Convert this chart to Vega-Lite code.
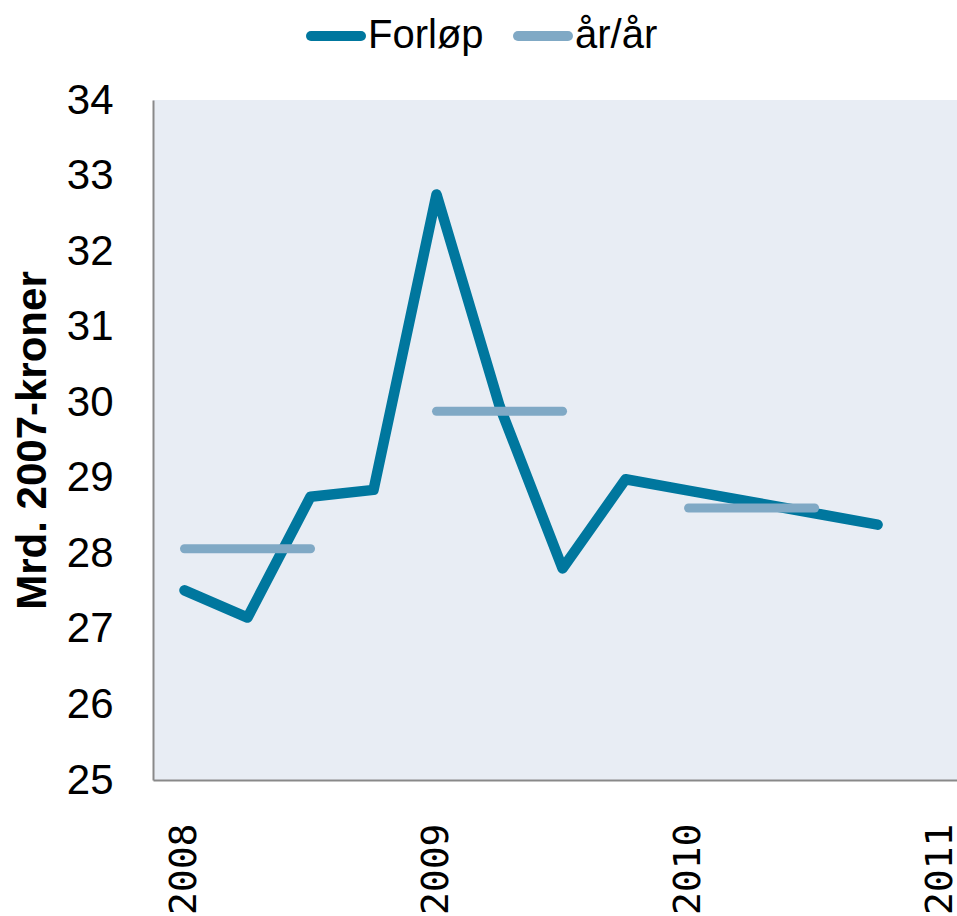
{
  "$schema": "https://vega.github.io/schema/vega-lite/v6.json",
  "width": 804,
  "height": 680,
  "autosize": {"type": "none"},
  "padding": {"left": 153, "top": 100, "right": 0, "bottom": 136},
  "background": "white",
  "config": {"view": {"fill": "#E8EDF4", "stroke": null}, "font": "Liberation Sans"},
  "data": {"values": [
    {"serie": "Forløp", "gruppe": "f", "t": 2008.00, "v": 27.51},
    {"serie": "Forløp", "gruppe": "f", "t": 2008.25, "v": 27.15},
    {"serie": "Forløp", "gruppe": "f", "t": 2008.50, "v": 28.75},
    {"serie": "Forløp", "gruppe": "f", "t": 2008.75, "v": 28.84},
    {"serie": "Forløp", "gruppe": "f", "t": 2009.00, "v": 32.75},
    {"serie": "Forløp", "gruppe": "f", "t": 2009.25, "v": 29.95},
    {"serie": "Forløp", "gruppe": "f", "t": 2009.50, "v": 27.80},
    {"serie": "Forløp", "gruppe": "f", "t": 2009.75, "v": 28.98},
    {"serie": "Forløp", "gruppe": "f", "t": 2010.00, "v": 28.83},
    {"serie": "Forløp", "gruppe": "f", "t": 2010.25, "v": 28.68},
    {"serie": "Forløp", "gruppe": "f", "t": 2010.50, "v": 28.53},
    {"serie": "Forløp", "gruppe": "f", "t": 2010.75, "v": 28.38},
    {"serie": "år/år", "gruppe": "2008", "t": 2008.00, "v": 28.06},
    {"serie": "år/år", "gruppe": "2008", "t": 2008.50, "v": 28.06},
    {"serie": "år/år", "gruppe": "2009", "t": 2009.00, "v": 29.88},
    {"serie": "år/år", "gruppe": "2009", "t": 2009.50, "v": 29.88},
    {"serie": "år/år", "gruppe": "2010", "t": 2010.00, "v": 28.60},
    {"serie": "år/år", "gruppe": "2010", "t": 2010.50, "v": 28.60}
  ]},
  "encoding": {
    "x": {
      "field": "t", "type": "quantitative",
      "scale": {"domain": [2007.875, 2011.065], "nice": false, "zero": false},
      "axis": {
        "values": [2008, 2009, 2010, 2011], "format": "d",
        "labelAngle": -90, "labelAlign": "right", "labelBaseline": "middle",
        "labelFont": "DejaVu Sans Mono", "labelFontSize": 38, "labelPadding": 43,
        "labelColor": "black", "labelFlush": false, "labelOverlap": false, "labelBound": false,
        "ticks": false, "grid": false, "domainColor": "#898989", "domainWidth": 2, "title": null
      }
    },
    "y": {
      "field": "v", "type": "quantitative",
      "scale": {"domain": [25, 34], "nice": false, "zero": false},
      "axis": {
        "values": [25, 26, 27, 28, 29, 30, 31, 32, 33, 34],
        "title": "Mrd. 2007-kroner", "titleFont": "Liberation Sans", "titleFontSize": 42,
        "titleFontWeight": "bold", "titleColor": "black", "titlePadding": 12,
        "labelFont": "Liberation Sans", "labelFontSize": 42, "labelPadding": 40, "labelColor": "black",
        "ticks": false, "grid": false, "domainColor": "#898989", "domainWidth": 2
      }
    },
    "color": {
      "field": "serie", "type": "nominal",
      "scale": {"domain": ["Forløp", "år/år"], "range": ["#00779E", "#80A9C5"]},
      "legend": {
        "orient": "none", "direction": "horizontal", "legendX": 153, "legendY": -94,
        "title": null, "symbolType": "stroke", "symbolStrokeWidth": 10, "symbolSize": 2500,
        "labelFont": "Liberation Sans", "labelFontSize": 40, "labelColor": "black",
        "columnPadding": 14, "labelOffset": 2,
        "encode": {"symbols": {"update": {"strokeCap": {"value": "round"}}}}
      }
    }
  },
  "layer": [
    {
      "transform": [{"filter": "datum.serie === 'Forløp'"}],
      "mark": {"type": "line", "strokeWidth": 10.5, "strokeCap": "round", "strokeJoin": "round"}
    },
    {
      "transform": [{"filter": "datum.serie === 'år/år'"}],
      "mark": {"type": "line", "strokeWidth": 9, "strokeCap": "round"},
      "encoding": {"detail": {"field": "gruppe"}}
    }
  ]
}
